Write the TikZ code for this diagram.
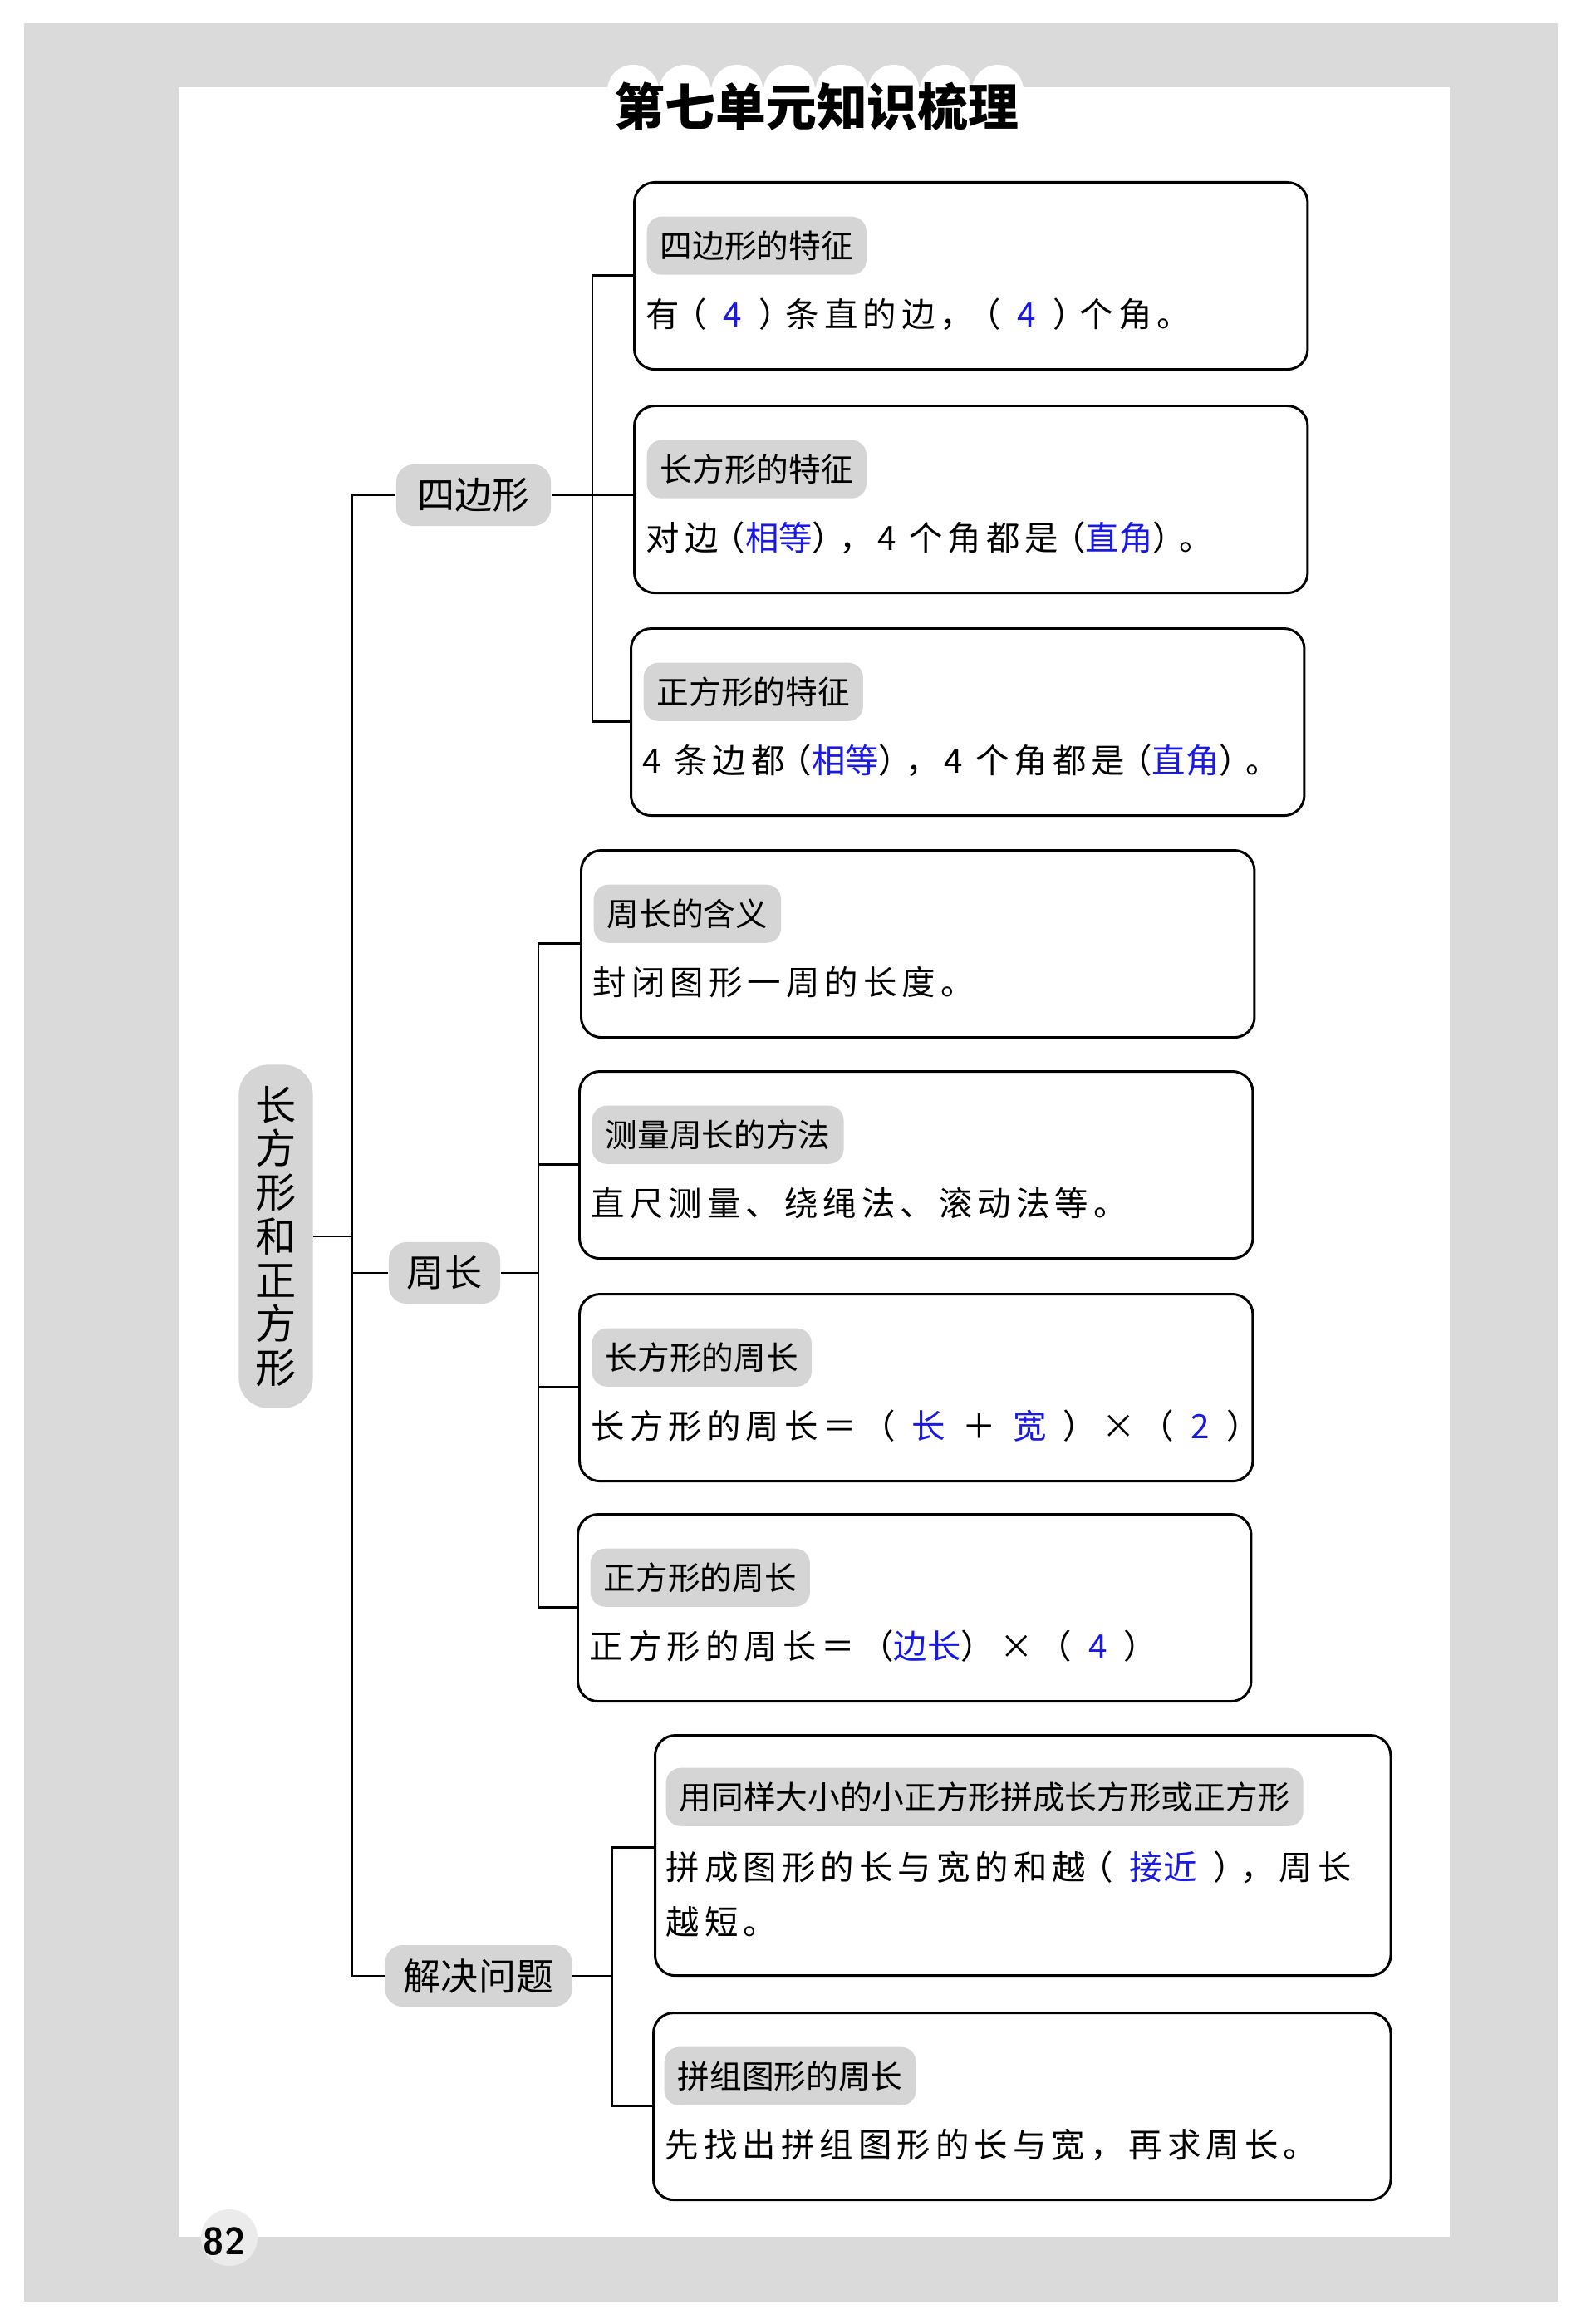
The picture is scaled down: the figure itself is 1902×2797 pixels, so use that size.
\documentclass[tikz,border=0pt]{standalone}
\usepackage{fontspec}
\usepackage{tikz}
\newfontfamily\kaifont[LetterSpace=15]{Noto Sans CJK SC}
\newfontfamily\songfont{Noto Sans CJK SC}
\newfontfamily\songbold{Noto Sans CJK SC}
\newfontfamily\heifont{Noto Sans CJK SC}
\definecolor{pagegray}{RGB}{218,218,218}
\definecolor{taggray}{RGB}{213,213,213}
\definecolor{ansblue}{RGB}{25,25,225}
\newcommand{\ans}[1]{\textcolor{ansblue}{\songfont #1}}
\newcommand{\lp}{\kern-0.2em（}
\newcommand{\rp}{）\kern-0.2em}

\begin{document}
\begin{tikzpicture}[x=0.01cm, y=-0.01cm,
  card/.style={draw, line width=0.85pt, rounded corners=7pt, anchor=north west,
    minimum width=8.1cm, minimum height=2.25cm, inner sep=0pt},
  tag/.style={fill=taggray, rounded corners=5pt, anchor=north west, minimum height=0.7cm,
    inner xsep=0.16cm, font=\heifont\fontsize{11}{13}\selectfont},
  body/.style={anchor=west, inner sep=0pt, align=left, font=\kaifont\fontsize{11.5}{18.7}\selectfont},
  branch/.style={fill=taggray, rounded corners=6pt, minimum height=0.74cm,
    font=\songfont\fontsize{12.8}{14}\selectfont},
  link/.style={line width=0.7pt}]
  \useasboundingbox (0,0) rectangle (1902,2797);
  % page
  \fill[white] (0,0) rectangle (1902,2797);
  \fill[pagegray] (29,28) rectangle (1875,2770);
  \fill[white] (215,105) rectangle (1745,2692);
  % title
  \foreach \i in {0,...,7} \fill[white] (762+62.7*\i,109) circle (0.31cm);
  \fill[white] (731,109) rectangle (1232,160);
  \node[font=\songbold\bfseries\fontsize{17.3}{20}\selectfont] (title) at (983,128) {第七单元知识梳理};
  % page number
  \fill[pagegray!55] (276,2693) circle (0.34cm);
  \node[font=\sffamily\bfseries\fontsize{13}{15}\selectfont] (page) at (270,2698) {82};

  % root and branches
  \node[branch, rounded corners=10pt, minimum width=0.89cm, minimum height=4.13cm, align=center,
    font=\songfont\fontsize{14}{15}\selectfont] (root) at (332,1488) {长\\方\\形\\和\\正\\方\\形};
  \node[branch, minimum width=1.86cm] (quad) at (570,596) {四边形};
  \node[branch, minimum width=1.34cm] (peri) at (535,1532) {周长};
  \node[branch, minimum width=2.25cm] (solve) at (576,2378) {解决问题};

  % quadrilateral cards
  \node[card] (b1) at (762,218) {};
  \node[tag] (t1) at ([shift={(16,42)}]b1.north west) {四边形的特征};
  \node[body] (c1) at ([shift={(15,160)}]b1.north west) {有\lp\enspace\ans{4}\enspace\rp 条直的边，\lp\enspace\ans{4}\enspace\rp 个角。};
  \node[card] (b2) at (762,487) {};
  \node[tag] (t2) at ([shift={(16,42)}]b2.north west) {长方形的特征};
  \node[body] (c2) at ([shift={(15,160)}]b2.north west) {对边\lp\ans{相等}\rp ，4 个角都是\lp\ans{直角}\rp 。};
  \node[card] (b3) at (758,755) {};
  \node[tag] (t3) at ([shift={(16,42)}]b3.north west) {正方形的特征};
  \node[body] (c3) at ([shift={(15,160)}]b3.north west) {4 条边都\lp\ans{相等}\rp ，4 个角都是\lp\ans{直角}\rp 。};

  % perimeter cards
  \node[card] (b4) at (698,1022) {};
  \node[tag] (t4) at ([shift={(16,42)}]b4.north west) {周长的含义};
  \node[body] (c4) at ([shift={(15,160)}]b4.north west) {封闭图形一周的长度。};
  \node[card] (b5) at (696,1288) {};
  \node[tag] (t5) at ([shift={(16,42)}]b5.north west) {测量周长的方法};
  \node[body] (c5) at ([shift={(15,160)}]b5.north west) {直尺测量、绕绳法、滚动法等。};
  \node[card] (b6) at (696,1556) {};
  \node[tag] (t6) at ([shift={(16,42)}]b6.north west) {长方形的周长};
  \node[body] (c6) at ([shift={(15,160)}]b6.north west) {长方形的周长＝（\enspace\ans{长}\enspace＋\enspace\ans{宽}\enspace）×（\enspace\ans{2}\enspace）};
  \node[card] (b7) at (694,1821) {};
  \node[tag] (t7) at ([shift={(16,42)}]b7.north west) {正方形的周长};
  \node[body] (c7) at ([shift={(15,160)}]b7.north west) {正方形的周长＝（\ans{边长}）×（\enspace\ans{4}\enspace）};

  % problem solving cards
  \node[card, minimum width=8.85cm, minimum height=2.89cm] (b8) at (787,2087) {};
  \node[tag] (t8) at ([shift={(14,40)}]b8.north west) {用同样大小的小正方形拼成长方形或正方形};
  \node[body] (c8) at ([shift={(14,193)}]b8.north west) {拼成图形的长与宽的和越\lp\enspace\ans{接近}\enspace\rp ，周长\\越短。};
  \node[card, minimum width=8.87cm] (b9) at (785,2421) {};
  \node[tag] (t9) at ([shift={(14,42)}]b9.north west) {拼组图形的周长};
  \node[body] (c9) at ([shift={(15,160)}]b9.north west) {先找出拼组图形的长与宽，再求周长。};

  % spine
  \coordinate (spine) at (424,0);
  \draw[link] (quad.west) -- (quad.west -| spine) -- (solve.west -| spine) -- (solve.west);
  \draw[link] (root.east) -- (root.east -| spine);
  \draw[link] (peri.west) -- (peri.west -| spine);
  % quadrilateral fork
  \coordinate (fork1) at (713,0);
  \draw[link] (quad.east) -- (quad.east -| b2.west);
  \draw[link] (b1.west |- t1.south) -- (t1.south -| fork1) -- (t3.south -| fork1) -- (b3.west |- t3.south);
  % perimeter fork
  \coordinate (fork2) at (648,0);
  \draw[link] (peri.east) -- (peri.east -| fork2);
  \draw[link] (b4.west |- t4.south) -- (t4.south -| fork2) -- (t7.south -| fork2) -- (b7.west |- t7.south);
  \draw[link] (t5.south -| fork2) -- (b5.west |- t5.south);
  \draw[link] (t6.south -| fork2) -- (b6.west |- t6.south);
  % problem solving fork
  \coordinate (fork3) at (737,0);
  \coordinate (j8) at ([yshift=-0.25cm]t8.south);
  \draw[link] (solve.east) -- (solve.east -| fork3);
  \draw[link] (b8.west |- j8) -- (j8 -| fork3) -- (t9.south -| fork3) -- (b9.west |- t9.south);
\end{tikzpicture}
\end{document}
